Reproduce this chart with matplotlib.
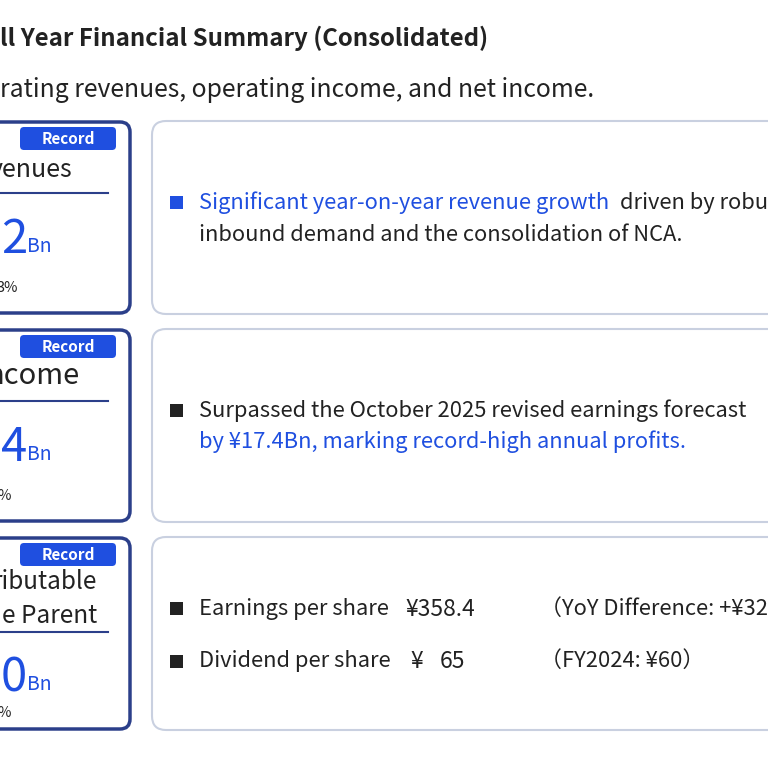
import matplotlib
matplotlib.use("Agg")
import matplotlib.pyplot as plt
from matplotlib.patches import FancyBboxPatch, Rectangle

plt.rcParams['font.family'] = ['Noto Sans CJK JP', 'DejaVu Sans']

title = "ll Year Financial Summary (Consolidated)"
subtitle = "rating revenues, operating income, and net income."
card_labels = [["venues"], ["ncome"], ["ributable", "e Parent"]]
card_values = ["2", "4", "0"]
card_pcts = ["3%", "%", "%"]
badge = "Record"

BLUE = "#1f4fe0"
NAVY = "#2b3f8a"
DARK = "#222222"

fig = plt.figure(figsize=(7.68, 7.68), dpi=100)
ax = fig.add_axes([0, 0, 1, 1])
ax.set_xlim(0, 768); ax.set_ylim(768, 0); ax.axis('off')

ax.text(0, 38, title, fontsize=17.3, fontweight='bold', color=DARK, va='center')
ax.text(0, 90, subtitle, fontsize=17.8, color=DARK, va='center')

tops = [120, 328, 536]
h = 195
for i, top in enumerate(tops):
    ax.add_patch(FancyBboxPatch((-40, top + 2), 170, h - 4, boxstyle="round,pad=0,rounding_size=10",
                                fc='white', ec=NAVY, lw=2.5))
    ax.add_patch(FancyBboxPatch((152, top + 1), 660, h - 2, boxstyle="round,pad=0,rounding_size=14",
                                fc='white', ec='#c9d0e0', lw=1.5))
    ax.add_patch(FancyBboxPatch((20, top + 7), 96, 23, boxstyle="round,pad=0,rounding_size=4",
                                fc=BLUE, ec='none'))
    ax.text(68, top + 18.5, badge, fontsize=11, fontweight='bold', color='white', ha='center', va='center')
    labs = card_labels[i]
    if len(labs) == 1:
        ax.text(72 if i == 0 else 80, top + 50 if i == 0 else top + 48, labs[0],
                fontsize=18 if i == 0 else 21, color=DARK, ha='right', va='center')
        uy = top + 73
        ax.plot([-5, 108], [uy, uy], color=NAVY, lw=1.5)
    else:
        ax.text(97, top + 46, labs[0], fontsize=17.5, color=DARK, ha='right', va='center')
        ax.text(97, top + 80, labs[1], fontsize=17.5, color=DARK, ha='right', va='center')
        ax.plot([-5, 108], [top + 96, top + 96], color=NAVY, lw=1.5)
    vy = top + 120 if i < 2 else top + 142
    ax.text(27, vy, card_values[i], fontsize=34, color=BLUE, ha='right', va='center')
    ax.text(27, vy + 6, "Bn", fontsize=14, color=BLUE, ha='left', va='center')
    ax.text(-3, top + 168 if i < 2 else top + 177, card_pcts[i], fontsize=10.5, color=DARK, ha='left', va='center')

fs = 15.8
ax.add_patch(Rectangle((170, 196), 13, 13, fc=BLUE, ec='none'))
ax.text(199, 203, "Significant year-on-year revenue growth", fontsize=fs, color=BLUE, va='center')
ax.text(620, 203, "driven by robust", fontsize=fs, color=DARK, va='center')
ax.text(199, 235, "inbound demand and the consolidation of NCA.", fontsize=fs, color=DARK, va='center')

ax.add_patch(Rectangle((170, 404), 13, 13, fc=DARK, ec='none'))
ax.text(199, 411, "Surpassed the October 2025 revised earnings forecast", fontsize=fs, color=DARK, va='center')
ax.text(199, 442, "by ¥17.4Bn, marking record-high annual profits.", fontsize=fs, color=BLUE, va='center')

ax.add_patch(Rectangle((170, 602), 13, 13, fc=DARK, ec='none'))
ax.text(199, 609, "Earnings per share", fontsize=fs, color=DARK, va='center')
ax.text(405, 609, "¥358.4", fontsize=16.5, color=DARK, va='center')
ax.text(540, 609, "（YoY Difference: +¥32", fontsize=fs, color=DARK, va='center')
ax.add_patch(Rectangle((170, 655), 13, 13, fc=DARK, ec='none'))
ax.text(199, 661, "Dividend per share", fontsize=fs, color=DARK, va='center')
ax.text(410, 661, "¥", fontsize=16.5, color=DARK, va='center')
ax.text(440, 661, "65", fontsize=16.5, color=DARK, va='center')
ax.text(540, 661, "（FY2024: ¥60）", fontsize=fs, color=DARK, va='center')

fig.savefig("out.png", dpi=100, facecolor='white')
